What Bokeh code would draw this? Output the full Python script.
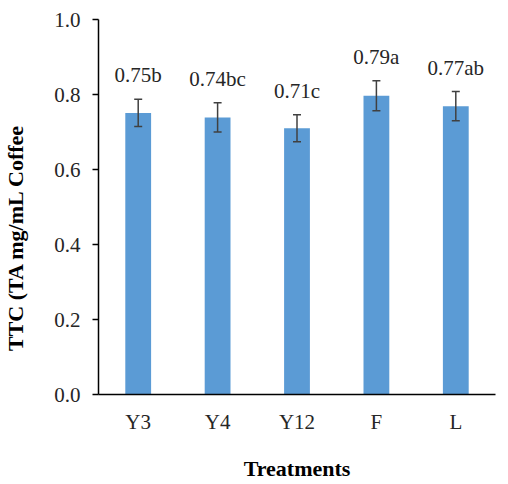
from bokeh.plotting import figure
from bokeh.models import ColumnDataSource, Whisker, TeeHead, LabelSet, FixedTicker, NumeralTickFormatter, Range1d, FactorRange
from bokeh.embed import file_html
from bokeh.resources import INLINE

treatments = ["Y3", "Y4", "Y12", "F", "L"]
means = [0.751, 0.739, 0.710, 0.797, 0.769]
errors = [0.0365, 0.039, 0.036, 0.040, 0.039]
labels = ["0.75b", "0.74bc", "0.71c", "0.79a", "0.77ab"]
y_ticks = [0.0, 0.2, 0.4, 0.6, 0.8, 1.0]

src = ColumnDataSource(dict(
    x=treatments,
    top=means,
    upper=[m + e for m, e in zip(means, errors)],
    lower=[m - e for m, e in zip(means, errors)],
    label=labels,
))

FONT = "Liberation Serif"
TXT = "#262626"

p = figure(x_range=FactorRange(*treatments, range_padding=0.0), y_range=Range1d(0, 1.0),
           width=500, height=483, output_backend="svg", toolbar_location=None,
           min_border_left=95, min_border_right=5, min_border_top=19, min_border_bottom=84)

p.vbar(x="x", top="top", width=0.325, source=src, fill_color="#5B9BD5", line_color=None)

w = Whisker(source=src, base="x", upper="upper", lower="lower", level="overlay",
            line_color="#404040", line_width=1.5,
            upper_head=TeeHead(size=8, line_color="#404040", line_width=1.5),
            lower_head=TeeHead(size=8, line_color="#404040", line_width=1.5))
p.add_layout(w)

lbl = LabelSet(x="x", y="upper", text="label", source=src, y_offset=17,
               text_align="center", text_baseline="alphabetic",
               text_font=FONT, text_font_size="21px", text_color=TXT)
p.add_layout(lbl)

p.xgrid.visible = False
p.ygrid.visible = False
p.outline_line_color = None
p.background_fill_color = "white"
p.border_fill_color = "white"

p.yaxis.ticker = FixedTicker(ticks=y_ticks)
p.yaxis.formatter = NumeralTickFormatter(format="0.0")
p.yaxis.minor_tick_line_color = None
p.yaxis.major_tick_in = 0
p.yaxis.major_tick_out = 6
p.yaxis.major_label_standoff = 12

p.xaxis.minor_tick_line_color = None
p.xaxis.major_tick_out = 0
p.xaxis.major_tick_in = 0
p.xaxis.major_label_standoff = 15

for ax in (p.xaxis, p.yaxis):
    ax.axis_line_color = "black"
    ax.axis_line_width = 1.5
    ax.major_tick_line_width = 1.5
    ax.major_label_text_font = FONT
    ax.major_label_text_font_size = "21px"
    ax.major_label_text_color = TXT
    ax.axis_label_text_font = FONT
    ax.axis_label_text_font_size = "22px"
    ax.axis_label_text_font_style = "bold"
    ax.axis_label_text_color = "black"
p.xaxis.major_tick_line_color = None
p.yaxis.major_tick_line_color = "black"

p.xaxis.axis_label = "Treatments"
p.xaxis.axis_label_standoff = 19

# trailing no-break spaces push the visible title toward the lower end, as in the original
p.yaxis.axis_label = "TTC (TA mg/mL Coffee" + "\u00a0" * 11
p.yaxis.axis_label_standoff = 23

open("out.html", "w").write(file_html(p, INLINE))
